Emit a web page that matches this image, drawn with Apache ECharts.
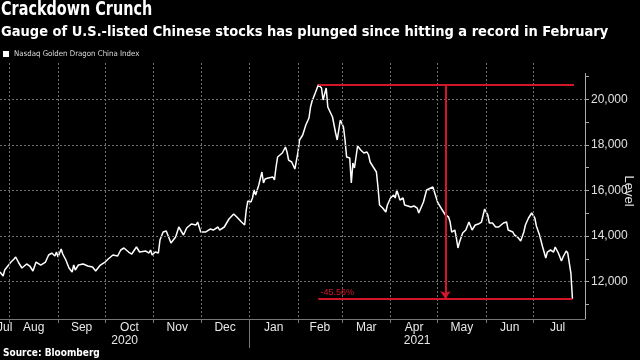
<!DOCTYPE html>
<html><head><meta charset="utf-8">
<script src="https://cdn.jsdelivr.net/npm/echarts@6/dist/echarts.min.js"></script>
<style>html,body{margin:0;padding:0;background:#000}#c{width:640px;height:360px}</style>
</head><body><div id="c"></div>
<script>
const titleText = 'Crackdown Crunch';
const subtitleText = 'Gauge of U.S.-listed Chinese stocks has plunged since hitting a record in February';
const seriesName = 'Nasdaq Golden Dragon China Index';
const sourceText = 'Source: Bloomberg';
const yAxisName = 'Level';
const changeLabel = '-45.56%';

const dates = [
'2020-07-26','2020-07-28','2020-07-29','2020-08-02','2020-08-04','2020-08-05','2020-08-07','2020-08-09','2020-08-10','2020-08-12',
'2020-08-14','2020-08-16','2020-08-18','2020-08-19','2020-08-21','2020-08-24','2020-08-26','2020-08-28','2020-08-30','2020-08-31',
'2020-09-01','2020-09-03','2020-09-04','2020-09-06','2020-09-08','2020-09-10','2020-09-11','2020-09-12','2020-09-14','2020-09-17',
'2020-09-20','2020-09-23','2020-09-25','2020-09-28','2020-09-29','2020-10-01','2020-10-03','2020-10-06','2020-10-09','2020-10-11',
'2020-10-13','2020-10-16','2020-10-18','2020-10-21','2020-10-23','2020-10-27','2020-10-29','2020-10-30','2020-10-31','2020-11-02',
'2020-11-04','2020-11-05','2020-11-07','2020-11-09','2020-11-12','2020-11-15','2020-11-17','2020-11-20','2020-11-22','2020-11-25',
'2020-11-28','2020-11-29','2020-12-01','2020-12-04','2020-12-07','2020-12-09','2020-12-12','2020-12-13','2020-12-16','2020-12-19',
'2020-12-22','2020-12-24','2020-12-27','2020-12-29','2020-12-30','2020-12-31','2021-01-02','2021-01-03','2021-01-04','2021-01-05',
'2021-01-06','2021-01-07','2021-01-09','2021-01-10','2021-01-11','2021-01-13','2021-01-16','2021-01-17','2021-01-18','2021-01-19',
'2021-01-22','2021-01-24','2021-01-25','2021-01-26','2021-01-28','2021-01-30','2021-02-01','2021-02-02','2021-02-04','2021-02-06',
'2021-02-08','2021-02-09','2021-02-10','2021-02-12','2021-02-14','2021-02-16','2021-02-17','2021-02-19','2021-02-20','2021-02-23',
'2021-02-25','2021-02-26','2021-02-28','2021-03-02','2021-03-03','2021-03-04','2021-03-06','2021-03-07','2021-03-08','2021-03-09',
'2021-03-10','2021-03-11','2021-03-13','2021-03-15','2021-03-17','2021-03-18','2021-03-19','2021-03-21','2021-03-23','2021-03-24',
'2021-03-25','2021-03-27','2021-03-29','2021-03-30','2021-04-01','2021-04-03','2021-04-04','2021-04-05','2021-04-07','2021-04-09',
'2021-04-10','2021-04-12','2021-04-14','2021-04-15','2021-04-16','2021-04-18','2021-04-19','2021-04-22','2021-04-24','2021-04-28',
'2021-04-29','2021-05-01','2021-05-04','2021-05-06','2021-05-08','2021-05-09','2021-05-10','2021-05-12','2021-05-13','2021-05-14',
'2021-05-15','2021-05-17','2021-05-19','2021-05-21','2021-05-23','2021-05-25','2021-05-27','2021-05-29','2021-05-31','2021-06-02',
'2021-06-03','2021-06-05','2021-06-07','2021-06-09','2021-06-12','2021-06-14','2021-06-15','2021-06-18','2021-06-19','2021-06-21',
'2021-06-23','2021-06-25','2021-06-26','2021-06-28','2021-06-30','2021-07-02','2021-07-03','2021-07-05','2021-07-07','2021-07-09',
'2021-07-10','2021-07-12','2021-07-14','2021-07-15','2021-07-17','2021-07-19','2021-07-20','2021-07-22','2021-07-23','2021-07-25',
'2021-07-26'
];
const values = [
12425,12249,12513,12863,12995,13083,12820,12600,12513,12776,
12688,12469,12863,12907,12732,12863,13171,13258,13127,13302,
13083,13434,13214,12951,12600,12425,12732,12513,12732,12776,
12688,12644,12469,12732,12688,12863,12995,13171,13127,13390,
13478,13302,13214,13522,13302,13346,13258,13390,13171,13302,
13258,13829,14179,14223,13697,13960,14399,14048,14355,14530,
14487,14618,14179,14179,14311,14267,14399,14267,14399,14750,
14969,14838,14618,14487,15144,15539,15495,15671,16022,15802,
16022,16241,16811,16329,16504,16548,16592,16460,17030,17469,
17644,17907,17688,17337,17250,16943,17688,18215,18434,18872,
19180,19662,19925,20276,20640,20495,19969,20495,19662,19223,
18522,18215,19092,18785,18215,17469,17425,16329,17206,16987,
17469,17951,17776,17644,17688,17557,17250,17030,16811,16153,
15364,15232,15057,15364,15671,15802,15671,16022,15583,15671,
15364,15320,15276,15232,15320,15232,15013,15495,16022,16153,
15934,15495,15144,14925,14838,14618,14179,14267,13916,13478,
13741,14135,14267,14618,14267,14487,14530,14618,15188,14925,
14574,14574,14399,14399,14574,14618,14267,14179,14048,13960,
13785,14179,14487,14794,15013,14794,14443,14048,13522,13039,
13302,13390,13302,13522,13258,12907,13083,13346,13258,12381,
11240
];

const axisStart = '2020-07-26';
const axisEnd = '2021-08-03';
const monthStarts = ['2020-07-01','2020-08-01','2020-09-01','2020-10-01','2020-11-01','2020-12-01','2021-01-01',
  '2021-02-01','2021-03-01','2021-04-01','2021-05-01','2021-06-01','2021-07-01','2021-08-01'];
const monthNames = ['Jan','Feb','Mar','Apr','May','Jun','Jul','Aug','Sep','Oct','Nov','Dec'];
const yearBoundary = '2021-01-01';
const yMin = 10364, yMax = 21592, yAxisLineTop = 21150;
const yLabelValues = [12000, 14000, 16000, 18000, 20000];
const yTickValues = [11000, 12000, 13000, 14000, 15000, 16000, 17000, 18000, 19000, 20000, 21000];
const arrowDate = '2021-05-06';
const topLineEnd = '2021-07-27';

function ts(s) { const p = s.split('-').map(Number); return new Date(p[0], p[1] - 1, p[2]).getTime(); }
const tMin = ts(axisStart), tMax = ts(axisEnd);
const seriesData = dates.map((d, i) => [ts(d), values[i]]);

const boundaries = monthStarts.map(ts).filter(t => t > tMin && t < tMax - 5 * 864e5);
const monthMids = [];
for (let i = 0; i < monthStarts.length - 1; i++) {
  const a = Math.max(ts(monthStarts[i]), tMin), b = Math.min(ts(monthStarts[i + 1]), tMax);
  if (b > a) monthMids.push((a + b) / 2);
}
const tYear = ts(yearBoundary);
const yearMids = [(tMin + tYear) / 2, (tYear + tMax) / 2];

let peakIdx = 0;
values.forEach((v, i) => { if (v > values[peakIdx]) peakIdx = i; });
const peakT = seriesData[peakIdx][0], peakV = values[peakIdx];
const lastT = seriesData[seriesData.length - 1][0], lastV = values[values.length - 1];

const RED = '#d3162a';
const GRID = '#6e6e6e';
const FONT = 'DejaVu Sans Condensed, DejaVu Sans, sans-serif';
const AXFONT = 'Liberation Sans, Arial, sans-serif';

// gridline segments expressed in data space (vertical at month boundaries, horizontal at labelled levels)
const gridLines = [
  ...boundaries.map(t => [{ coord: [t, yMax] }, { coord: [t, yMin] }]),
  ...yLabelValues.map(v => [{ coord: [tMin, v] }, { coord: [tMax, v] }])
];

const chart = echarts.init(document.getElementById('c'), null, { renderer: 'canvas' });
chart.setOption({
  backgroundColor: '#000',
  animation: false,
  title: [
    { text: subtitleText, left: 1, top: 25, padding: 0,
      textStyle: { color: '#fff', fontSize: 14.5, fontWeight: 'bold', fontFamily: FONT } },
    { text: sourceText, left: 3, top: 348, padding: 0,
      textStyle: { color: '#fff', fontSize: 10, fontWeight: 'bold', fontFamily: FONT } }
  ],
  graphic: [
    { type: 'text', left: 1, top: 0, scaleX: 0.8, originX: 0, originY: 0,
      style: { text: titleText, fill: '#fff', font: 'bold 20px ' + FONT } },
    { type: 'text', x: 629, y: 191, rotation: -Math.PI / 2,
      style: { text: yAxisName, fill: '#e0e0e0', font: '13px ' + AXFONT, align: 'center', verticalAlign: 'middle' } }
  ],
  legend: {
    data: [seriesName], left: 3, top: 50, padding: 0, icon: 'rect', itemWidth: 6, itemHeight: 6, itemGap: 5,
    textStyle: { color: '#ddd', fontSize: 7.8, fontFamily: FONT }
  },
  grid: { left: 0, right: 55, top: 63, bottom: 41, containLabel: false, outerBoundsMode: 'none' },
  xAxis: [
    { type: 'value', min: tMin, max: tMax, position: 'bottom', scale: true,
      axisLine: { show: true, onZero: false, lineStyle: { color: '#777', width: 1 } },
      axisTick: { show: true, customValues: boundaries, length: 4, lineStyle: { color: '#777' } },
      axisLabel: { show: true, customValues: monthMids, margin: 3, color: '#e8e8e8', fontSize: 12, fontFamily: AXFONT,
        formatter: v => monthNames[new Date(v).getMonth()] },
      splitLine: { show: false } },
    { type: 'value', min: tMin, max: tMax, position: 'bottom', scale: true,
      axisLine: { show: false, onZero: false },
      axisTick: { show: true, customValues: [tYear], length: 29, lineStyle: { color: '#777' } },
      axisLabel: { show: true, customValues: yearMids, margin: 16, color: '#e8e8e8', fontSize: 12, fontFamily: AXFONT,
        formatter: v => String(new Date(v).getFullYear()) },
      splitLine: { show: false } }
  ],
  yAxis: {
    type: 'value', position: 'right', min: yMin, max: yMax,
    axisLine: { show: false },
    axisTick: { show: true, customValues: yTickValues, length: 4, lineStyle: { color: '#aaa' } },
    axisLabel: { show: true, customValues: yLabelValues, margin: 6, color: '#e0e0e0', fontSize: 12, fontFamily: AXFONT },
    splitLine: { show: false }
  },
  series: [
    { type: 'line', name: 'grid', data: seriesData, z: 1, showSymbol: false, symbol: 'none',
      lineStyle: { color: 'rgba(0,0,0,0)', width: 1 }, itemStyle: { color: 'rgba(0,0,0,0)' },
      markLine: { silent: true, symbol: ['none', 'none'], label: { show: false }, animation: false,
        lineStyle: { color: GRID, type: [2, 2], width: 1, opacity: 1 },
        data: [
          ...gridLines,
          [{ coord: [tMax, yAxisLineTop], lineStyle: { color: '#aaa', type: 'solid', width: 1, opacity: 1 } }, { coord: [tMax, yMin] }]
        ] } },
    { type: 'line', name: seriesName, data: seriesData, showSymbol: false, symbol: 'none', z: 3,
      lineStyle: { color: '#fff', width: 1.5 }, itemStyle: { color: '#fff' },
      markLine: { silent: true, symbol: ['none', 'none'], animation: false,
        lineStyle: { color: RED, type: 'solid', width: 2 },
        label: { show: false },
        data: [
          [{ coord: [peakT, peakV] }, { coord: [ts(topLineEnd), peakV] }],
          [{ coord: [ts(arrowDate), peakV], symbol: 'none' }, { coord: [ts(arrowDate), lastV], symbol: 'arrow', symbolSize: 8 }],
          [{ coord: [peakT, lastV], label: { show: true, formatter: changeLabel, position: 'insideStartTop', distance: 2,
              color: RED, fontSize: 9, fontFamily: AXFONT } }, { coord: [lastT, lastV] }]
        ] } }
  ]
});
</script></body></html>
